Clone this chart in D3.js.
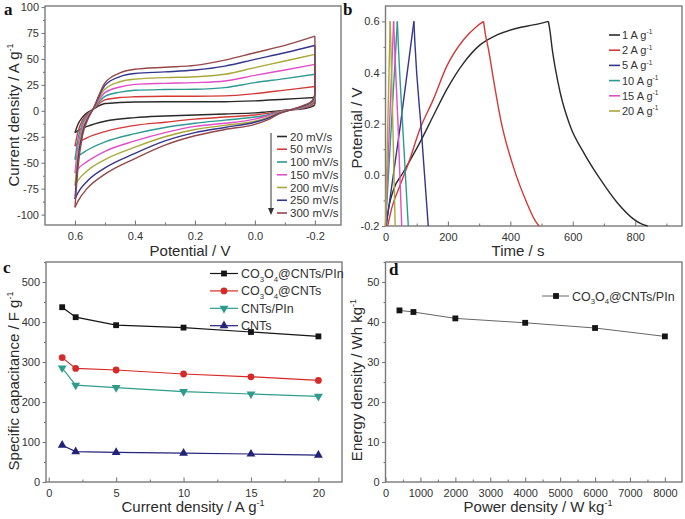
<!DOCTYPE html>
<html>
<head>
<meta charset="utf-8">
<script src="https://cdn.jsdelivr.net/npm/d3@7"></script>
<style>
body { margin: 0; background: #fff; }
text { font-family: "Liberation Sans", Arial, sans-serif; }
</style>
</head>
<body>
<svg id="fig" width="685" height="519"></svg>
<script>
// ---- data ---------------------------------------------------------------
// (a) CV loops, upper branch sampled at cv_up_v, lower branch at cv_down_v
var cv_rates = ["20 mV/s", "50 mV/s", "100 mV/s", "150 mV/s", "200 mV/s", "250 mV/s", "300 mV/s"];
var cv_colors = ["#2a2a2a", "#d23a3a", "#2f9a92", "#e04ec8", "#a9a83a", "#34358c", "#94484a"];
var cv_up_v = [0.6, 0.59, 0.575, 0.555, 0.54, 0.5, 0.45, 0.4, 0.3, 0.2, 0.1, 0.0, -0.1, -0.2];
var cv_up = [
    [-21, -13, -6, -1, 1.5, 7, 8, 8.5, 8.8, 8.8, 8.8, 9.6, 11.2, 12.8],
    [-34, -20, -9, -2, 1.5, 10.5, 12.8, 13.5, 14, 14, 14.4, 16.6, 20, 23.4],
    [-47, -27, -12, -3, 1.5, 14, 18, 19.8, 20.5, 20.8, 22.4, 27.2, 31, 35.2],
    [-60, -34, -15, -4, 1.5, 17.5, 23, 25.5, 26.5, 27.2, 28.8, 34.2, 39.3, 44.8],
    [-72, -41, -18, -5, 1.5, 21, 28, 30.5, 32, 32.9, 35.2, 41.6, 48, 54.4],
    [-85, -48, -21, -6, 1.5, 24.5, 33, 36, 37.5, 39.3, 43.1, 49.6, 56, 63],
    [-93, -55, -24, -7, 1.5, 27, 36.5, 40, 42, 43.8, 48.9, 56, 63, 71.9]
];
var cv_down_v = [-0.2, -0.19, -0.16, -0.12, -0.08, -0.04, 0.0, 0.1, 0.2, 0.3, 0.4, 0.5, 0.56, 0.59, 0.6];
var cv_down = [
    [6, 4, 2, 1, 0, -1, -2, -3, -4, -5, -6.5, -10, -15, -19, -21],
    [9, 6, 2.5, 1, -0.5, -2.5, -4, -6, -8, -11, -14, -20, -26, -31, -34],
    [11, 7, 3, 1, -1, -4, -6, -9, -12, -16, -22, -30, -38, -44, -47],
    [13, 8, 3.5, 1, -1.5, -5, -8, -12, -15, -21, -29, -39, -49, -56, -60],
    [14, 8.5, 4, 1, -2, -6.5, -10, -14, -18, -25, -35, -47, -58, -67, -72],
    [15, 9, 4.5, 1, -2.5, -7.5, -11, -16, -21, -29, -41, -55, -68, -79, -85],
    [16, 9.5, 5, 1, -3, -9, -13, -18, -24, -33, -46, -61, -75, -87, -93]
];

// (b) galvanostatic charge/discharge
var gcd_labels = ["1 A g", "2 A g", "5 A g", "10 A g", "15 A g", "20 A g"];
var gcd_colors = ["#2a2a2a", "#d23a3a", "#34358c", "#2f9a92", "#e04ec8", "#a9a83a"];
var gcd_t = [
    [2, 10, 25, 57, 110, 153, 196, 250, 303, 357, 421, 474, 522, 528, 533, 545, 560, 592, 635, 688, 742, 795, 820, 840],
    [7, 20, 46, 75, 110, 153, 196, 250, 292, 314, 320, 330, 345, 370, 410, 453, 480, 492],
    [2, 46, 91, 94, 115, 137],
    [0, 20, 38, 40, 56, 73],
    [0, 13, 26, 27.5, 40, 52],
    [0, 8, 15, 16.5, 24, 31]
];
var gcd_v = [
    [-0.2, -0.13, -0.06, 0.01, 0.126, 0.23, 0.333, 0.437, 0.508, 0.547, 0.573, 0.586, 0.6, 0.554, 0.502, 0.41, 0.32, 0.19, 0.087, -0.017, -0.108, -0.173, -0.192, -0.2],
    [-0.2, -0.13, -0.043, 0.05, 0.178, 0.294, 0.424, 0.528, 0.58, 0.6, 0.55, 0.49, 0.38, 0.21, 0.03, -0.11, -0.18, -0.2],
    [-0.2, 0.18, 0.6, 0.52, 0.17, -0.2],
    [-0.2, 0.22, 0.6, 0.54, 0.17, -0.2],
    [-0.2, 0.2, 0.6, 0.55, 0.2, -0.2],
    [-0.2, 0.23, 0.6, 0.54, 0.17, -0.2]
];

// (c) specific capacitance vs current density
var cur_density = [1, 2, 5, 10, 15, 20];
var cap_co3o4_cnts_pin = [437, 412, 392, 386, 375, 364];
var cap_co3o4_cnts = [311, 284, 280, 270, 263, 254];
var cap_cnts_pin = [285, 242, 236, 226, 220, 214];
var cap_cnts = [92, 76, 74, 72, 70, 67];

// (d) Ragone plot
var power_density = [400, 800, 2000, 4000, 6000, 8000];
var energy_density = [42.9, 42.5, 40.9, 39.8, 38.5, 36.4];

// ---- helpers -------------------------------------------------------------
var svg = d3.select("#fig");
var frame_col = "#7a7a7a";
var text_col = "#2b2b2b";

function makePanel(box, xdom, ydom) {
    return {
        box: box,
        g: svg.append("g"),
        x: d3.scaleLinear().domain(xdom).range([box.left, box.right]),
        y: d3.scaleLinear().domain(ydom).range([box.bottom, box.top])
    };
}

function drawAxes(p, xt, xm, yt, ym, xfmt, yfmt) {
    var b = p.box;
    function style(sel) {
        sel.select(".domain").remove();
        sel.selectAll("line").attr("stroke", frame_col).attr("stroke-width", 1.1);
        sel.selectAll("text").attr("fill", "#333").style("font-size", "11px");
    }
    p.g.append("g").attr("transform", "translate(0," + b.bottom + ")")
        .call(d3.axisBottom(p.x).tickValues(xm).tickSize(-2.5).tickFormat(""))
        .call(style);
    p.g.append("g").attr("transform", "translate(0," + b.bottom + ")")
        .call(d3.axisBottom(p.x).tickValues(xt).tickSize(-4.5).tickPadding(7).tickFormat(xfmt))
        .call(style);
    p.g.append("g").attr("transform", "translate(" + b.left + ",0)")
        .call(d3.axisLeft(p.y).tickValues(ym).tickSize(2).tickFormat(""))
        .call(style);
    p.g.append("g").attr("transform", "translate(" + b.left + ",0)")
        .call(d3.axisLeft(p.y).tickValues(yt).tickSize(3.5).tickPadding(2.5).tickFormat(yfmt))
        .call(style);
    p.g.append("rect")
        .attr("x", b.left).attr("y", b.top)
        .attr("width", b.right - b.left).attr("height", b.bottom - b.top)
        .attr("fill", "none").attr("stroke", frame_col).attr("stroke-width", 1.4);
}

// text with a trailing "-1" superscript
function supText(sel, main, sup, size) {
    sel.append("tspan").text(main);
    sel.append("tspan").text(sup)
        .attr("dy", -size * 0.42).style("font-size", (size * 0.6) + "px");
}

function xTitle(x, y, main, sup) {
    var t = svg.append("text").attr("x", x).attr("y", y)
        .attr("text-anchor", "middle").attr("fill", text_col).style("font-size", "15px");
    if (sup) supText(t, main, sup, 15); else t.text(main);
}

function yTitle(x, y, main, sup) {
    var t = svg.append("text")
        .attr("transform", "translate(" + x + "," + y + ") rotate(-90)")
        .attr("text-anchor", "middle").attr("fill", text_col).style("font-size", "15px");
    if (sup) supText(t, main, sup, 15); else t.text(main);
}

function panelLetter(x, y, s) {
    svg.append("text").attr("x", x).attr("y", y).text(s)
        .style("font-family", "'Liberation Serif', 'Times New Roman', serif")
        .style("font-weight", "bold").style("font-size", "17px").attr("fill", "#111");
}

var fmt1 = function (d) { return d.toFixed(1); };
var fmt0 = function (d) { return String(d); };

// ---- (a) CV ----------------------------------------------------------------
var pa = makePanel({left: 45, right: 341, top: 6, bottom: 225}, [0.7, -0.287], [-110, 101]);
drawAxes(pa, [0.6, 0.4, 0.2, 0.0, -0.2], [0.5, 0.3, 0.1, -0.1],
    d3.range(-100, 101, 25), d3.range(-87.5, 100, 25), fmt1, fmt0);

var cv_line = d3.line()
    .x(function (d) { return pa.x(d[0]); })
    .y(function (d) { return pa.y(d[1]); })
    .curve(d3.curveMonotoneX);

cv_rates.forEach(function (r, i) {
    var up = cv_up_v.map(function (v, k) { return [v, cv_up[i][k]]; });
    var down = cv_down_v.map(function (v, k) { return [v, cv_down[i][k]]; }).reverse();
    var g = pa.g.append("g").attr("fill", "none").attr("stroke", cv_colors[i])
        .attr("stroke-width", 1.4).attr("stroke-linejoin", "round");
    g.append("path").attr("d", cv_line(up));
    g.append("path").attr("d", cv_line(down));
    g.append("path").attr("d", d3.line()([
        [pa.x(-0.2), pa.y(cv_up[i][cv_up[i].length - 1])],
        [pa.x(-0.2), pa.y(cv_down[i][0])]
    ]));
});

// legend with arrow
var la = pa.g.append("g");
la.append("line").attr("x1", 271).attr("x2", 271).attr("y1", 133).attr("y2", 210)
    .attr("stroke", "#333").attr("stroke-width", 1);
la.append("path").attr("d", "M268,208 L274,208 L271,215 Z").attr("fill", "#333");
cv_rates.forEach(function (r, i) {
    var yy = 136.5 + i * 12.75;
    la.append("line").attr("x1", 277).attr("x2", 287).attr("y1", yy).attr("y2", yy)
        .attr("stroke", cv_colors[i]).attr("stroke-width", 1.6);
    la.append("text").attr("x", 290).attr("y", yy + 4).text(r)
        .attr("fill", "#333").style("font-size", "11.5px");
});

// ---- (b) GCD ---------------------------------------------------------------
var pb = makePanel({left: 385.5, right: 682, top: 6, bottom: 226}, [0, 950], [-0.2, 0.66]);
drawAxes(pb, [0, 200, 400, 600, 800], [100, 300, 500, 700, 900],
    [-0.2, 0.0, 0.2, 0.4, 0.6], [-0.1, 0.1, 0.3, 0.5], fmt0, fmt1);

var gcd_line = d3.line()
    .x(function (d) { return pb.x(d[0]); })
    .y(function (d) { return pb.y(d[1]); })
    .curve(d3.curveMonotoneX);

gcd_labels.forEach(function (lab, i) {
    var pts = gcd_t[i].map(function (t, k) { return [t, gcd_v[i][k]]; });
    var peak = d3.maxIndex(gcd_v[i]);
    var g = pb.g.append("g").attr("fill", "none").attr("stroke", gcd_colors[i]).attr("stroke-width", 1.4);
    g.append("path").attr("d", gcd_line(pts.slice(0, peak + 1)));
    g.append("path").attr("d", gcd_line(pts.slice(peak)));
});

gcd_labels.forEach(function (lab, i) {
    var yy = 35 + i * 15.2;
    pb.g.append("line").attr("x1", 609).attr("x2", 620).attr("y1", yy).attr("y2", yy)
        .attr("stroke", gcd_colors[i]).attr("stroke-width", 1.6);
    var t = pb.g.append("text").attr("x", 622).attr("y", yy + 4)
        .attr("fill", "#333").style("font-size", "11px");
    supText(t, lab, "-1", 11);
});

// ---- (c) capacitance ------------------------------------------------------
var pc = makePanel({left: 46, right: 342, top: 262, bottom: 482}, [-0.2, 21.75], [0, 550]);
drawAxes(pc, [0, 5, 10, 15, 20], [2.5, 7.5, 12.5, 17.5],
    d3.range(0, 501, 100), d3.range(50, 551, 100), fmt0, fmt0);

var cap_series = [
    {name: "CO|3|O|4|@CNTs/PIn", vals: cap_co3o4_cnts_pin, color: "#151515", sym: d3.symbolSquare, rot: 0, size: 34},
    {name: "CO|3|O|4|@CNTs", vals: cap_co3o4_cnts, color: "#d42a2a", sym: d3.symbolCircle, rot: 0, size: 36},
    {name: "CNTs/PIn", vals: cap_cnts_pin, color: "#2e9c8c", sym: d3.symbolTriangle, rot: 180, size: 34},
    {name: "CNTs", vals: cap_cnts, color: "#232378", sym: d3.symbolTriangle, rot: 0, size: 34}
];

var cap_line = d3.line()
    .x(function (d, k) { return pc.x(cur_density[k]); })
    .y(function (d) { return pc.y(d); });

// formula-style label: parts split by "|", odd parts are subscripts
function chemText(sel, s, size) {
    s.split("|").forEach(function (part, k) {
        if (!part) return;
        if (k % 2 === 1) {
            sel.append("tspan").text(part).attr("dy", size * 0.3).style("font-size", (size * 0.62) + "px");
        } else {
            sel.append("tspan").text(part).attr("dy", k === 0 ? 0 : -size * 0.3);
        }
    });
}

cap_series.forEach(function (s, i) {
    pc.g.append("path").attr("d", cap_line(s.vals)).attr("fill", "none")
        .attr("stroke", s.color).attr("stroke-width", 1.2);
    pc.g.selectAll(null).data(s.vals).enter().append("path")
        .attr("d", d3.symbol().type(s.sym).size(s.size))
        .attr("transform", function (d, k) {
            return "translate(" + pc.x(cur_density[k]) + "," + pc.y(d) + ") rotate(" + s.rot + ")";
        })
        .attr("fill", s.color);
    var yy = 273.5 + i * 17.4;
    pc.g.append("line").attr("x1", 210).attr("x2", 238).attr("y1", yy).attr("y2", yy)
        .attr("stroke", s.color).attr("stroke-width", 1.2);
    pc.g.append("path").attr("d", d3.symbol().type(s.sym).size(s.size))
        .attr("transform", "translate(224," + yy + ") rotate(" + s.rot + ")").attr("fill", s.color);
    var t = pc.g.append("text").attr("x", 241).attr("y", yy + 4.5)
        .attr("fill", "#333").style("font-size", "12.5px");
    chemText(t, s.name, 12.5);
});

// ---- (d) Ragone --------------------------------------------------------------
var pd = makePanel({left: 385.5, right: 682, top: 262, bottom: 482}, [0, 8490], [0, 55]);
drawAxes(pd, d3.range(0, 8001, 1000), d3.range(500, 8001, 1000),
    d3.range(0, 51, 10), d3.range(5, 56, 10), fmt0, fmt0);

pd.g.append("path")
    .attr("d", d3.line()
        .x(function (d, k) { return pd.x(power_density[k]); })
        .y(function (d) { return pd.y(d); })(energy_density))
    .attr("fill", "none").attr("stroke", "#666").attr("stroke-width", 1);
pd.g.selectAll(null).data(energy_density).enter().append("path")
    .attr("d", d3.symbol().type(d3.symbolSquare).size(34))
    .attr("transform", function (d, k) {
        return "translate(" + pd.x(power_density[k]) + "," + pd.y(d) + ")";
    })
    .attr("fill", "#151515");
pd.g.append("line").attr("x1", 542).attr("x2", 569).attr("y1", 296).attr("y2", 296)
    .attr("stroke", "#666").attr("stroke-width", 1);
pd.g.append("path").attr("d", d3.symbol().type(d3.symbolSquare).size(34))
    .attr("transform", "translate(556,296)").attr("fill", "#151515");
var td = pd.g.append("text").attr("x", 572).attr("y", 300.5)
    .attr("fill", "#333").style("font-size", "12.5px");
chemText(td, "CO|3|O|4|@CNTs/PIn", 12.5);

// ---- titles and letters -------------------------------------------------
yTitle(19, 115, "Current density / A g", "-1");
xTitle(190, 256, "Potential / V");
yTitle(362, 128, "Potential / V");
xTitle(518, 256, "Time / s");
yTitle(19, 381, "Specific capacitance / F g", "-1");
xTitle(193, 512, "Current density / A g", "-1");
yTitle(362, 380, "Energy density / Wh kg", "-1");
xTitle(538, 512, "Power density / W kg", "-1");

panelLetter(4, 15, "a");
panelLetter(343, 15, "b");
panelLetter(3, 273, "c");
panelLetter(389, 275, "d");
</script>
</body>
</html>
